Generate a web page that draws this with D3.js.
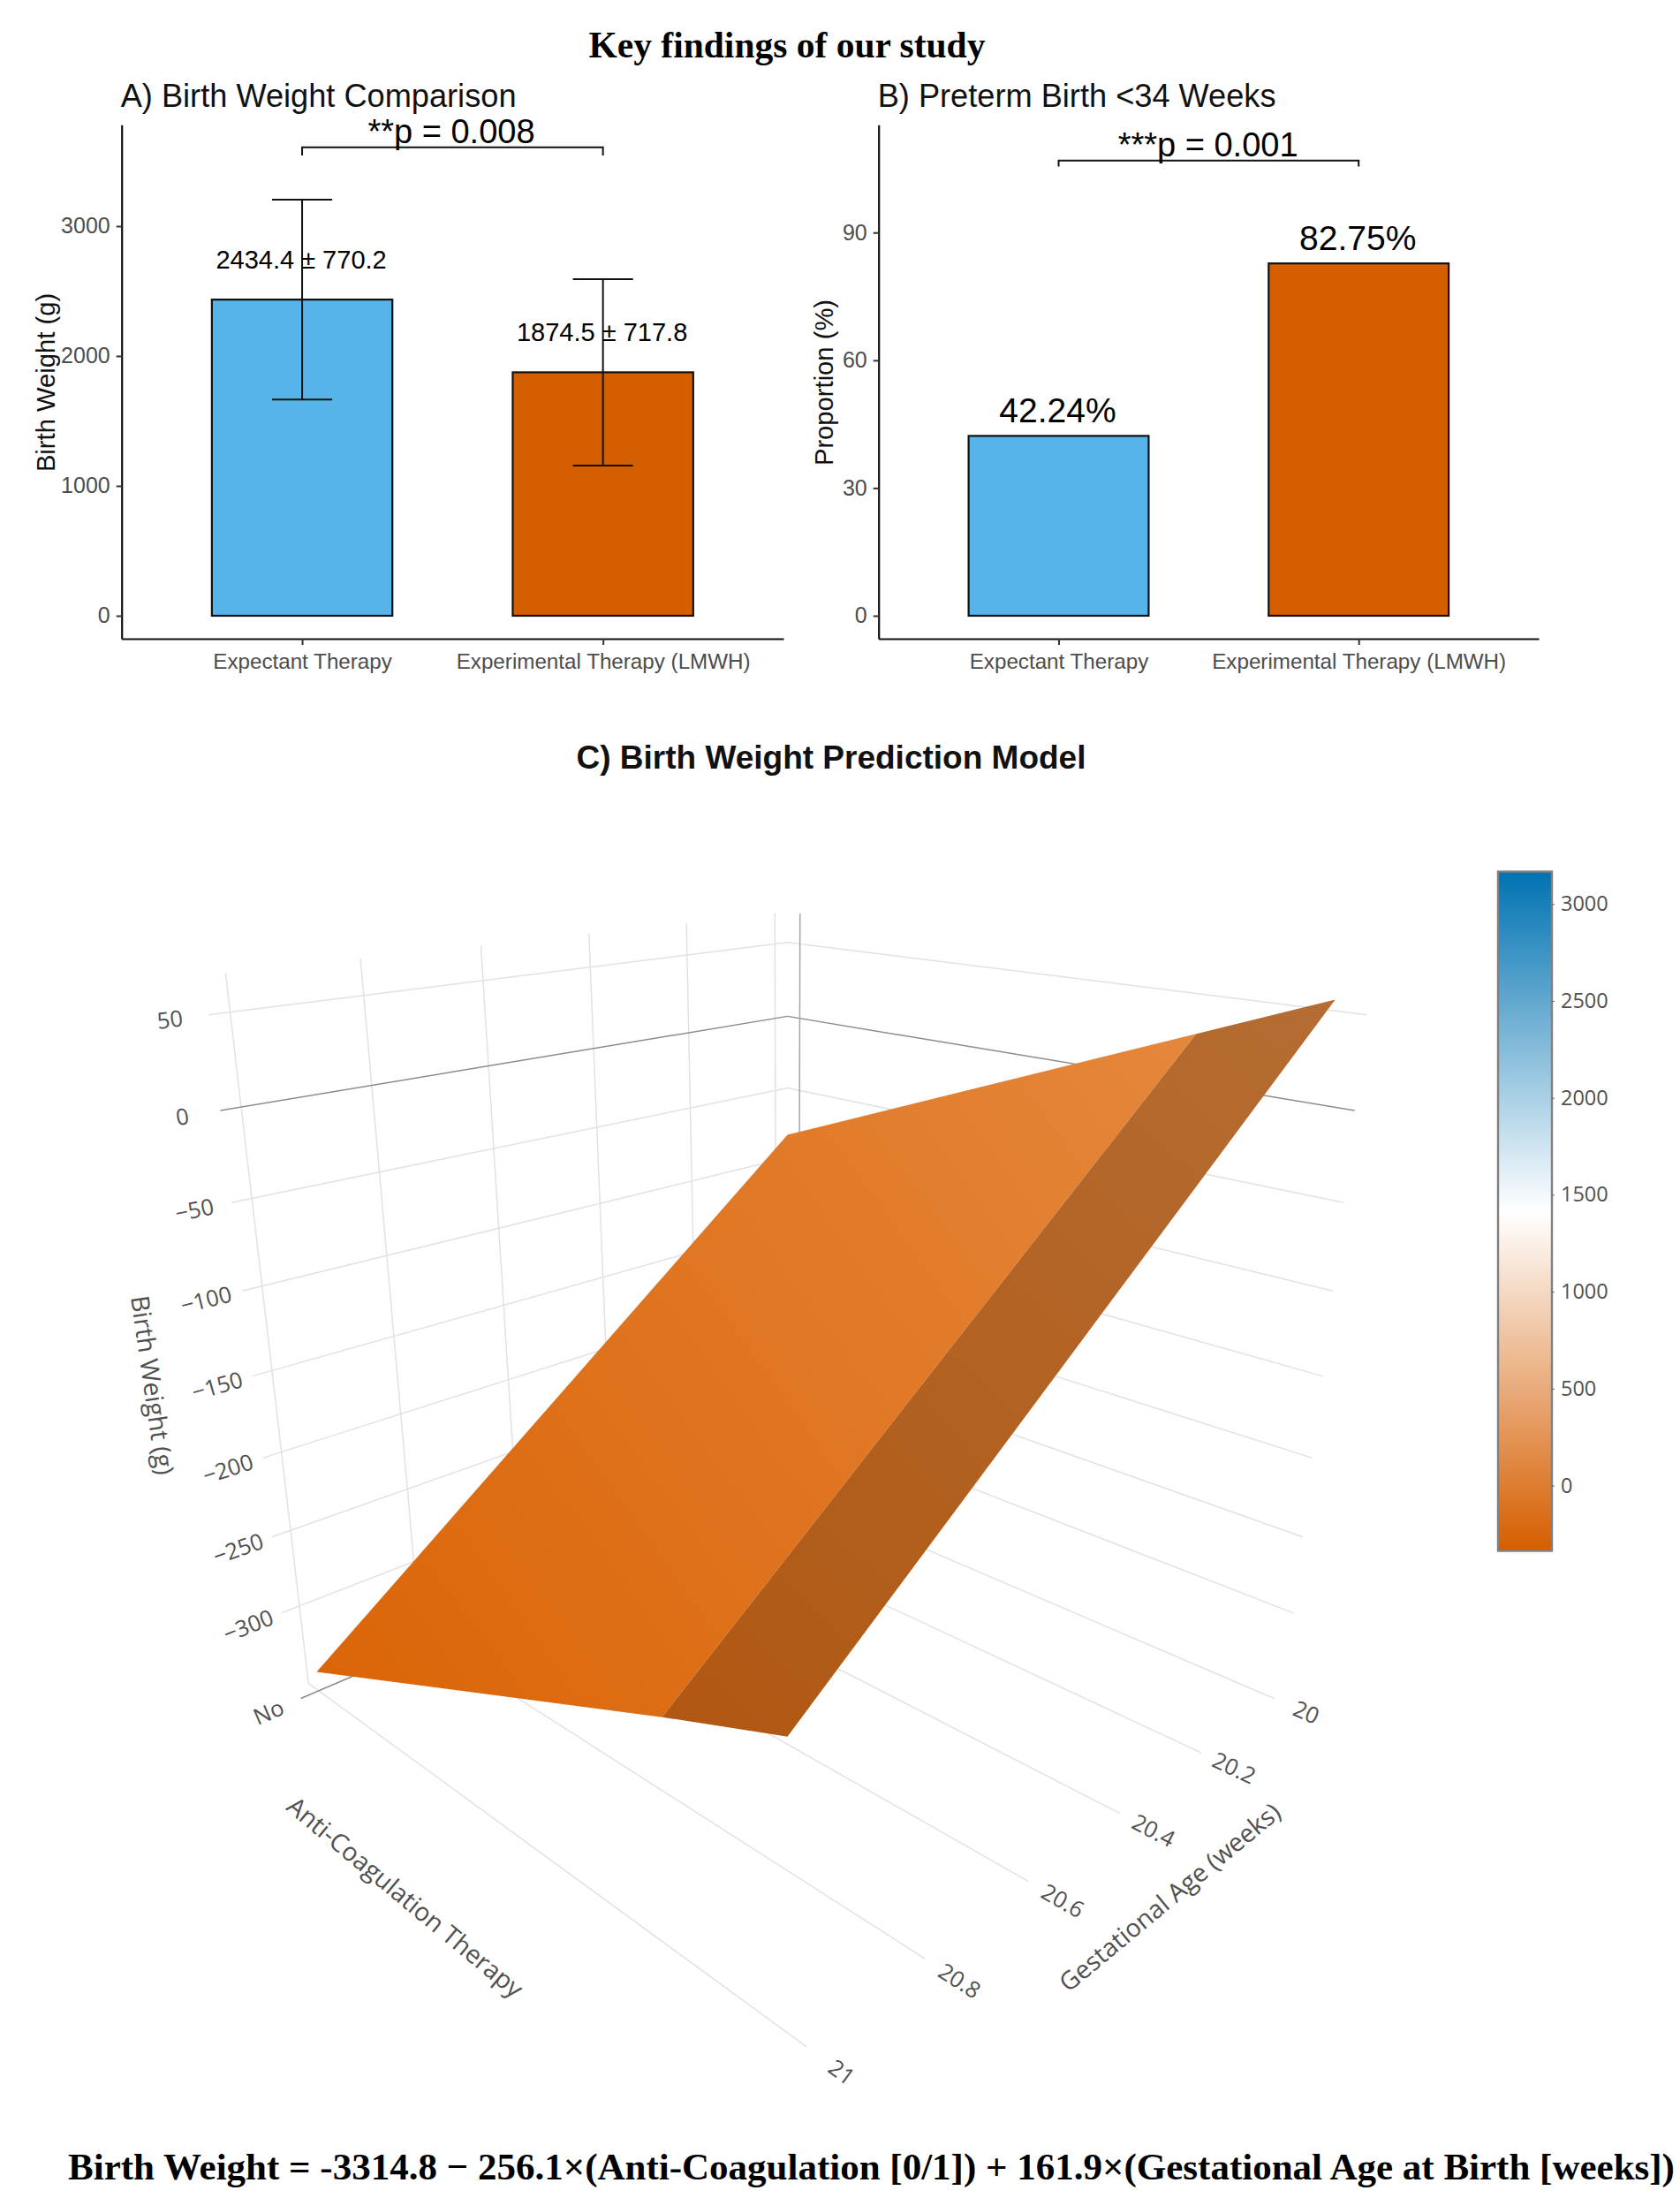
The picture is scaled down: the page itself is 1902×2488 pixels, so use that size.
<!DOCTYPE html>
<html>
<head>
<meta charset="utf-8">
<script src="https://cdnjs.cloudflare.com/ajax/libs/d3/7.8.5/d3.min.js"></script>
<style>
  html, body { margin: 0; padding: 0; background: #fff; }
  svg { display: block; }
  text { font-family: "Liberation Sans", Arial, sans-serif; }
  .serif { font-family: "Liberation Serif", "Times New Roman", serif; font-weight: bold; fill: #000; }
  .plotly text { font-family: "Open Sans", sans-serif; fill: #505050; }
</style>
</head>
<body>
<svg id="main"></svg>
<script>
// panel A and B values
var categories = ["Expectant Therapy", "Experimental Therapy (LMWH)"];
var weightMeans = [2434.4, 1874.5];
var weightSds = [770.2, 717.8];
var weightLabels = ["2434.4 ± 770.2", "1874.5 ± 717.8"];
var weightTicks = [0, 1000, 2000, 3000];
var pretermValues = [42.24, 82.75];
var pretermLabels = ["42.24%", "82.75%"];
var pretermTicks = [0, 30, 60, 90];
var barColors = ["#56B4E9", "#D55E00"];

// panel C surface, z at each grid point
var therapyGrid = [0, 0.8, 1];
var gestationGrid = [20, 21];
var surfaceZ = [
  [-79.5, 30.4, 57.8],
  [-340, -226, -199]
];
var gestationTicks = [20, 20.2, 20.4, 20.6, 20.8, 21];
var birthWeightTicks = [50, 0, -50, -100, -150, -200, -250, -300];
var colorbarTicks = [0, 500, 1000, 1500, 2000, 2500, 3000];

var w = 1902;
var h = 2488;

var svg = d3.select("#main")
  .attr("width", w)
  .attr("height", h);

var defs = svg.append("defs");

svg.append("text")
  .attr("class", "serif")
  .attr("x", 891)
  .attr("y", 65)
  .attr("text-anchor", "middle")
  .style("font-size", "41.5px")
  .text("Key findings of our study");

// bars with axes, shared by A and B
function barPanel(o) {
  var g = svg.append("g");

  var xScale = d3.scalePoint()
    .domain(categories)
    .range([o.left, o.right])
    .padding(0.6);

  var yScale = d3.scaleLinear()
    .domain(o.domain)
    .range([723, 141.3]);

  var barW = xScale.step() * 0.6;

  g.selectAll("rect")
    .data(o.values)
    .enter()
    .append("rect")
    .attr("x", function(d, i) { return xScale(categories[i]) - barW / 2; })
    .attr("y", function(d) { return yScale(d); })
    .attr("width", barW)
    .attr("height", function(d) { return yScale(0) - yScale(d); })
    .attr("fill", function(d, i) { return barColors[i]; })
    .attr("stroke", "#111")
    .attr("stroke-width", 2.2);

  if (o.sds) {
    var capW = xScale.step() * 0.2;
    o.values.forEach(function(d, i) {
      var cx = xScale(categories[i]);
      var top = yScale(d + o.sds[i]);
      var bottom = yScale(d - o.sds[i]);
      var path = d3.path();
      path.moveTo(cx, top); path.lineTo(cx, bottom);
      path.moveTo(cx - capW / 2, top); path.lineTo(cx + capW / 2, top);
      path.moveTo(cx - capW / 2, bottom); path.lineTo(cx + capW / 2, bottom);
      g.append("path")
        .attr("d", path.toString())
        .attr("fill", "none")
        .attr("stroke", "#111")
        .attr("stroke-width", 2);
    });
  }

  g.selectAll("text.value")
    .data(o.labels)
    .enter()
    .append("text")
    .attr("class", "value")
    .attr("x", function(d, i) { return xScale(categories[i]) - 1; })
    .attr("y", function(d, i) { return yScale(o.values[i]) - o.labelGap; })
    .attr("text-anchor", "middle")
    .attr("fill", "#000")
    .style("font-size", o.labelSize + "px")
    .text(function(d) { return d; });

  // significance bracket
  var b = d3.path();
  b.moveTo(xScale(categories[0]), yScale(o.bracket[1]));
  b.lineTo(xScale(categories[0]), yScale(o.bracket[0]));
  b.lineTo(xScale(categories[1]), yScale(o.bracket[0]));
  b.lineTo(xScale(categories[1]), yScale(o.bracket[1]));
  g.append("path")
    .attr("d", b.toString())
    .attr("fill", "none")
    .attr("stroke", "#111")
    .attr("stroke-width", 2);

  g.append("text")
    .attr("x", o.pX)
    .attr("y", yScale(o.bracket[0]) - 5)
    .attr("text-anchor", "middle")
    .attr("fill", "#000")
    .style("font-size", "38px")
    .text(o.pText);

  var xAxis = d3.axisBottom(xScale).tickSize(7).tickPadding(10).tickSizeOuter(0);
  var yAxis = d3.axisLeft(yScale).tickValues(o.ticks).tickFormat(d3.format("d")).tickSize(6).tickPadding(7).tickSizeOuter(0);

  var gx = g.append("g").attr("transform", "translate(0,723)").call(xAxis);
  var gy = g.append("g").attr("transform", "translate(" + o.left + ",0)").call(yAxis);

  gx.selectAll("text").attr("fill", "#4d4d4d").style("font-size", "24.2px");
  gy.selectAll("text").attr("fill", "#4d4d4d").style("font-size", "25px");
  g.selectAll(".domain").attr("stroke", "#111").attr("stroke-width", 2.2);
  g.selectAll(".tick line").attr("stroke", "#333").attr("stroke-width", 2);

  g.append("text")
    .attr("x", o.left - 1)
    .attr("y", 121)
    .attr("fill", "#111")
    .style("font-size", "36.2px")
    .text(o.title);

  g.append("text")
    .attr("transform", "translate(" + o.titleX + ",433) rotate(-90)")
    .attr("text-anchor", "middle")
    .attr("fill", "#111")
    .style("font-size", "29.2px")
    .text(o.yTitle);
}

barPanel({
  left: 137.7, right: 887,
  domain: [-177, 3780],
  values: weightMeans, sds: weightSds,
  labels: weightLabels, labelGap: 35, labelSize: 29,
  ticks: weightTicks,
  bracket: [3607, 3544],
  pX: 511, pText: "**p = 0.008",
  title: "A) Birth Weight Comparison",
  yTitle: "Birth Weight (g)", titleX: 62
});

barPanel({
  left: 994.7, right: 1742,
  domain: [-5.4, 115.3],
  values: pretermValues, sds: null,
  labels: pretermLabels, labelGap: 15, labelSize: 39,
  ticks: pretermTicks,
  bracket: [106.9, 105.5],
  pX: 1367.6, pText: "***p = 0.001",
  title: "B) Preterm Birth <34 Weeks",
  yTitle: "Proportion (%)", titleX: 943
});

svg.append("text")
  .attr("x", 941)
  .attr("y", 870)
  .attr("text-anchor", "middle")
  .attr("fill", "#111")
  .style("font-size", "37px")
  .style("font-weight", "bold")
  .text("C) Birth Weight Prediction Model");

// panel C: data -> unit cube -> screen through a perspective camera
var xCube = d3.scaleLinear().domain([-0.03, 1.03]).range([0, 1]);
var yCube = d3.scaleLinear().domain([19.97, 21.03]).range([0, 1]);
var zCube = d3.scaleLinear().domain([-353, 50]).range([0, 1]);
var zTop = 70;

var camera = [
  [248.5, -633.5, -99.0, 891.5],
  [-175.1, -175.1, -727.5, 1675.7],
  [-0.21593, -0.21593, -0.11106, 1]
];

function project(u, v, t) {
  var q = camera.map(function(r) { return r[0] * u + r[1] * v + r[2] * t + r[3]; });
  return [q[0] / q[2], q[1] / q[2]];
}

// angle on screen of the direction a -> b, for text laid along the box
function angle(a, b) {
  return Math.atan2(b[1] - a[1], b[0] - a[0]) * 180 / Math.PI;
}

var plot = svg.append("g").attr("class", "plotly");
var line = d3.line();

function gridLine(a, b, color) {
  plot.append("path")
    .attr("d", line([a, b]))
    .attr("fill", "none")
    .attr("stroke", color)
    .attr("stroke-width", 1.5);
}

var gridColor = "#e2e2e2";
var zeroColor = "#8c8c8c";
var w1 = zCube(zTop);

gestationTicks.forEach(function(d) {
  var v = yCube(d);
  gridLine(project(0, v, 0), project(0, v, w1), gridColor);
  gridLine(project(0, v, 0), project(1, v, 0), gridColor);
});

birthWeightTicks.forEach(function(d) {
  var t = zCube(d);
  var c = d === 0 ? zeroColor : gridColor;
  gridLine(project(0, 1, t), project(0, 0, t), c);
  gridLine(project(0, 0, t), project(1, 0, t), c);
});

// the "No" plane on the floor and on the far wall
gridLine(project(xCube(0), 1, 0), project(xCube(0), 0, 0), zeroColor);
gridLine(project(xCube(0), 0, 0), project(xCube(0), 0, w1), "#a5a5a5");

var colorScale = d3.scaleLinear()
  .domain([-337, 1415, 3167])
  .range(["#D55E00", "#ffffff", "#0072B2"]);

function shaded(z, k) {
  var c = d3.rgb(d3.interpolateRgb(colorScale(z), "#ffffff")(0.03));
  return d3.rgb(c.r * k, c.g * k, c.b * k).formatHex();
}

// one facet per pair of neighbouring therapy grid points
var facetShade = [1.025, 0.81];
d3.range(therapyGrid.length - 1).forEach(function(i) {
  var x0 = xCube(therapyGrid[i]);
  var x1 = xCube(therapyGrid[i + 1]);
  var y0 = yCube(gestationGrid[0]);
  var y1 = yCube(gestationGrid[1]);
  var corners = [
    project(x0, y0, zCube(surfaceZ[0][i])),
    project(x1, y0, zCube(surfaceZ[0][i + 1])),
    project(x1, y1, zCube(surfaceZ[1][i + 1])),
    project(x0, y1, zCube(surfaceZ[1][i]))
  ];
  var low = corners[3];
  var high = corners[1];
  var grad = defs.append("linearGradient")
    .attr("id", "facet" + i)
    .attr("gradientUnits", "userSpaceOnUse")
    .attr("x1", low[0]).attr("y1", low[1])
    .attr("x2", high[0]).attr("y2", high[1]);
  grad.append("stop").attr("offset", 0).attr("stop-color", shaded(surfaceZ[1][i], facetShade[i]));
  grad.append("stop").attr("offset", 1).attr("stop-color", shaded(surfaceZ[0][i + 1], facetShade[i]));
  plot.append("path")
    .attr("d", line(corners) + "Z")
    .attr("fill", "url(#facet" + i + ")");
});

// tick labels run along the gridline they belong to
function rotatedLabel(p, a, txt, size) {
  plot.append("text")
    .attr("transform", "translate(" + p[0] + "," + p[1] + ") rotate(" + a + ")")
    .attr("text-anchor", "middle")
    .attr("dy", "0.35em")
    .style("font-size", size + "px")
    .text(txt);
}

birthWeightTicks.forEach(function(d) {
  var t = zCube(d);
  var txt = d < 0 ? "\u2212" + Math.abs(d) : String(d);
  rotatedLabel(project(0, 1.05, t), angle(project(0, 1, t), project(0, 0.9, t)), txt, 25.5);
});

gestationTicks.forEach(function(d) {
  var v = yCube(d);
  rotatedLabel(project(1.05, v, 0), angle(project(1, v, 0), project(1.1, v, 0)), String(d), 25.5);
});

rotatedLabel(project(xCube(0), 1.05, 0), angle(project(xCube(0), 1.1, 0), project(xCube(0), 1, 0)), "No", 25.5);

rotatedLabel(project(0.5, 1.135, 0), angle(project(0.4, 1.135, 0), project(0.6, 1.135, 0)), "Anti-Coagulation Therapy", 28.5);
rotatedLabel(project(1.135, 0.5, 0), angle(project(1.135, 0.6, 0), project(1.135, 0.4, 0)), "Gestational Age (weeks)", 28.5);
rotatedLabel(project(0, 1.135, 0.53), angle(project(0, 1.135, 0.7), project(0, 1.135, 0.4)), "Birth Weight (g)", 28.5);

// colorbar
var barY = d3.scaleLinear().domain([3167, -337]).range([986.6, 1755.5]);

var cbGrad = defs.append("linearGradient")
  .attr("id", "colorbar")
  .attr("x1", 0).attr("y1", 1)
  .attr("x2", 0).attr("y2", 0);
colorScale.domain().forEach(function(d, i) {
  cbGrad.append("stop").attr("offset", i / 2).attr("stop-color", colorScale(d));
});

plot.append("rect")
  .attr("x", 1696)
  .attr("y", barY(3167))
  .attr("width", 61)
  .attr("height", barY(-337) - barY(3167))
  .attr("fill", "url(#colorbar)")
  .attr("stroke", "#808080")
  .attr("stroke-width", 2.4);

var cbAxis = plot.append("g")
  .attr("transform", "translate(1757,0)")
  .call(d3.axisRight(barY).tickValues(colorbarTicks).tickFormat(d3.format("d")).tickSize(3).tickPadding(7));
cbAxis.select(".domain").remove();
cbAxis.selectAll("text").style("font-size", "23.5px");
cbAxis.selectAll("line").attr("stroke", "#666");

svg.append("text")
  .attr("class", "serif")
  .attr("x", 77)
  .attr("y", 2467)
  .style("font-size", "43px")
  .text("Birth Weight = -3314.8 \u2212 256.1\u00d7(Anti-Coagulation [0/1]) + 161.9\u00d7(Gestational Age at Birth [weeks])");
</script>
</body>
</html>
